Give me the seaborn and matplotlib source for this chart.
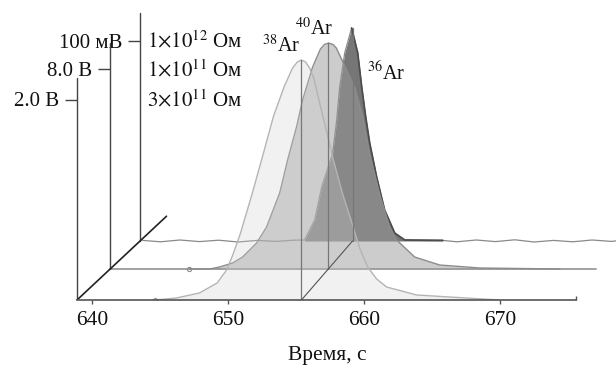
import matplotlib
matplotlib.use('Agg')
import matplotlib.pyplot as plt
import matplotlib.transforms as mtransforms
import seaborn as sns

# time axis (s)
t_start = 638.9
t_end = 675.6
x_ticks = [640, 650, 660, 670]
t_peak = 655.4

# 38Ar, front trace, V (3x10^11 Ohm)
ar38_t = [644.6, 646.2, 647.9, 649.2, 649.9, 650.35, 650.9, 651.75, 652.55, 653.35, 654.15, 654.75,
          655.1, 655.4, 655.7, 656.0, 656.3, 656.74, 657.33, 657.77, 658.43, 659.09, 659.68, 660.27,
          660.93, 661.66, 663.87, 666.3, 670.0]
ar38_v = [0.00, 0.02, 0.07, 0.17, 0.30, 0.45, 0.66, 1.05, 1.44, 1.84, 2.14, 2.32,
          2.38, 2.40, 2.38, 2.32, 2.22, 1.97, 1.64, 1.39, 1.06, 0.78, 0.52, 0.33,
          0.21, 0.13, 0.05, 0.03, 0.00]

# 40Ar, middle trace, V (1x10^11 Ohm)
ar40_t = [644.9, 646.43, 647.18, 648.17, 648.92, 649.98, 650.73, 651.72, 652.32, 653.0, 653.45,
          654.21, 654.8, 655.1, 655.42, 655.75, 656.0, 656.48, 657.38, 657.99, 658.52, 659.27,
          660.03, 660.56, 661.92, 663.81, 666.83, 672.9]
ar40_v = [0.0, 0.0, 0.08, 0.24, 0.48, 1.04, 1.68, 3.04, 4.36, 5.7, 6.76,
          8.08, 8.80, 8.98, 9.04, 8.98, 8.84, 8.30, 7.28, 6.1, 4.6, 3.0,
          1.68, 1.16, 0.48, 0.16, 0.04, 0.0]

# 36Ar, back trace, mV (1x10^12 Ohm)
ar36_t = [651.68, 652.46, 653.0, 653.86, 654.17, 654.4, 654.79, 655.33, 655.8, 656.11, 656.42,
          656.73, 657.27, 657.89, 658.67, 659.45, 662.4]
ar36_mv = [0.5, 10.5, 27, 44, 60.5, 77, 94, 106.5, 94, 77, 62,
           49, 32, 15.5, 4, 0.5, 0.3]
# baseline noise of the back trace
noise_pre_t = [639.1, 640.5, 642.0, 643.5, 645.0, 646.5, 648.0, 649.5, 650.8]
noise_pre_mv = [0.3, -0.4, 0.5, -0.3, 0.4, -0.5, 0.3, -0.2, 0.4]
noise_post_t = [663.5, 665.0, 666.5, 668.0, 669.5, 671.0, 672.5, 674.0, 675.5, 676.2]
noise_post_mv = [-0.4, 0.5, -0.3, 0.6, -0.5, 0.3, -0.4, 0.5, -0.2, 0.3]

scale_labels = ['2.0 В', '8.0 В', '100 мВ']
scale_values = [2.0, 8.0, 100.0]
axis_top = [2.22, 9.04, 114.0]
resistors = [r'$3{\times}10^{11}$ Ом', r'$1{\times}10^{11}$ Ом', r'$1{\times}10^{12}$ Ом']
isotopes = [r'$^{38}$Ar', r'$^{40}$Ar', r'$^{36}$Ar']

# pseudo-3D layout (pixels)
px_per_s = 13.6
layer_dx = [0, 33, 63]
layer_dy = [0, 31, 59]
layer_sx = [1.0, 0.973, 0.947]
tick_px = 200.0

sns.set_theme(style='white')
plt.rcParams['font.family'] = ['Liberation Serif', 'DejaVu Serif']
plt.rcParams['mathtext.fontset'] = 'stix'

W, H = 616, 367
fig = plt.figure(figsize=(W / 100, H / 100), dpi=100)
ax = fig.add_axes([0, 67 / H, 1, 300 / H])
ax.set_xlim(640 - 92 / px_per_s, 640 + (W - 92) / px_per_s)
ax.set_ylim(0, 300)
ax.autoscale(False)

tr = []
for k in range(3):
    ppu = tick_px / scale_values[k]
    a = (mtransforms.Affine2D().translate(-t_start, 0).scale(layer_sx[k], ppu)
         .translate(t_start + layer_dx[k] / px_per_s, layer_dy[k]))
    tr.append(a + ax.transData)


def to_front(k, t, v):
    ppu = tick_px / scale_values[k]
    return (t_start + layer_dx[k] / px_per_s + (t - t_start) * layer_sx[k], layer_dy[k] + v * ppu)


# back layer: 36Ar
back_t = noise_pre_t + ar36_t + noise_post_t
back_mv = noise_pre_mv + ar36_mv + noise_post_mv
ipk = ar36_mv.index(max(ar36_mv))
ax.fill_between(ar36_t, ar36_mv, 0, transform=tr[2], color='#767676', lw=0, zorder=1)
sns.lineplot(x=back_t, y=back_mv, ax=ax, sort=False, color='#8a8a8a', lw=0.9, transform=tr[2], zorder=2)
sns.lineplot(x=ar36_t[ipk:], y=ar36_mv[ipk:], ax=ax, sort=False, color='#4d4d4d', lw=1.3,
             transform=tr[2], zorder=2)

# middle layer: 40Ar
ax.plot([t_start, t_end], [0, 0], color='#9a9a9a', lw=1.3, transform=tr[1], zorder=3)
ax.fill_between(ar40_t, ar40_v, 0, transform=tr[1], color='#9a9a9a', alpha=0.5, lw=0, zorder=3)
sns.lineplot(x=ar40_t, y=ar40_v, ax=ax, sort=False, color='#8c8c8c', lw=1.0, transform=tr[1], zorder=4)
ax.plot(ar40_t[0], 0, marker='o', ms=3, mfc='none', mec='#888888', mew=0.8, transform=tr[1], zorder=4)

# front layer: 38Ar
ax.fill_between(ar38_t, ar38_v, 0, transform=tr[0], color='#d0d0d0', alpha=0.28, lw=0, zorder=5)
sns.lineplot(x=ar38_t, y=ar38_v, ax=ax, sort=False, color='#b4b4b4', lw=1.0, transform=tr[0], zorder=6)
ax.plot(ar38_t[0], 0, marker='o', ms=3, mfc='none', mec='#999999', mew=0.8, transform=tr[0], zorder=6)

# peak verticals and diagonal through peak base
peaks = [max(ar38_v), max(ar40_v), max(ar36_mv)]
for k in range(3):
    ax.plot([t_peak, t_peak], [0, peaks[k]], color='#777777', lw=0.9, transform=tr[k], zorder=7)
p0, p2 = to_front(0, t_peak, 0), to_front(2, t_peak, 0)
ax.plot([p0[0], p2[0]], [p0[1], p2[1]], color='#555555', lw=0.8, zorder=7)

# vertical scale axes with their ticks
for k in range(3):
    ax.plot([t_start, t_start], [0, axis_top[k]], color='#444444', lw=1.0, transform=tr[k], zorder=8)
    ax.plot(t_start, scale_values[k], marker=0, ms=9, mew=1.0, color='#444444', transform=tr[k], zorder=8)
    ax.annotate(scale_labels[k], xy=(t_start, scale_values[k]), xycoords=tr[k],
                xytext=(-18, -6.5), textcoords='offset pixels', ha='right', va='baseline',
                fontsize=15, color='#111111')

# left depth diagonal
q0, q2 = to_front(0, t_start, 0), to_front(2, t_start, 0)
ax.plot([q0[0], q0[0] + 1.42 * (q2[0] - q0[0])], [q0[1], q0[1] + 1.42 * (q2[1] - q0[1])],
        color='#222222', lw=1.2, zorder=8)

# front time axis
for s in ['top', 'left', 'right']:
    ax.spines[s].set_visible(False)
ax.spines['bottom'].set_bounds(t_start, t_end)
ax.spines['bottom'].set_color('#555555')
ax.spines['bottom'].set_linewidth(1.2)
ax.spines['bottom'].set_zorder(9)
ax.plot(t_end, 0, marker=2, ms=3, mew=1.0, color='#555555', clip_on=False, zorder=9)
ax.set_xticks(x_ticks)
ax.set_yticks([])
ax.tick_params(axis='x', direction='out', length=3, width=1, color='#555555', pad=5,
               labelsize=15.5, labelcolor='#111111', bottom=True)
ax.grid(False)
fig.text(288 / W, 1 - 360 / H, 'Время, с', ha='left', va='baseline', fontsize=15.5, color='#111111')

# resistor labels
res_y = [106.5, 76.5, 47.5]
for k in range(3):
    fig.text(147 / W, 1 - res_y[k] / H, resistors[k], ha='left', va='baseline', fontsize=15, color='#111111')

# isotope labels near peak tops
iso_off = [(-1, 8, 'right'), (5, 8, 'right'), (14, -52, 'left')]
for k in range(3):
    dx, dy, ha = iso_off[k]
    ax.annotate(isotopes[k], xy=(t_peak, peaks[k]), xycoords=tr[k], xytext=(dx, dy),
                textcoords='offset pixels', ha=ha, va='baseline', fontsize=14.5, color='#111111')

fig.savefig('out.png', dpi=100)
